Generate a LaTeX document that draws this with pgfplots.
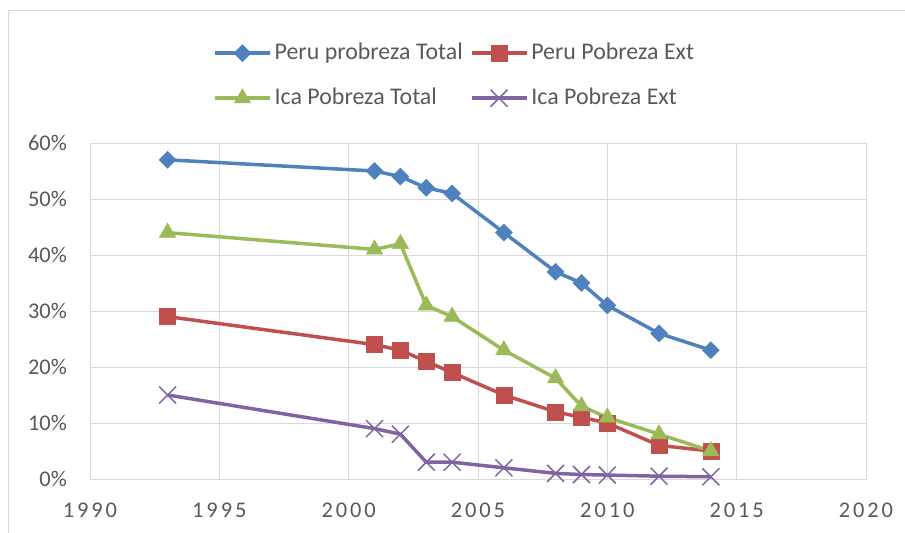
\documentclass[border=0pt]{standalone}
\usepackage{fontspec}
\setmainfont{Carlito}
\newfontfamily\spacedfont[LetterSpace=13]{Carlito}
\usepackage{pgfplots}
\pgfplotsset{compat=1.18}
\definecolor{cblue}{HTML}{4F81BD}
\definecolor{cred}{HTML}{C0504D}
\definecolor{cgreen}{HTML}{9BBB59}
\definecolor{cpurple}{HTML}{8064A2}
\definecolor{gridgray}{HTML}{D9D9D9}
\definecolor{textgray}{HTML}{595959}
\begin{document}
\begin{tikzpicture}
\draw[gridgray, line width=1bp] (8bp,-10bp) rectangle (915bp,522bp);
\begin{axis}[
  at={(90bp,54bp)}, anchor=south west,
  scale only axis, width=776bp, height=336bp,
  xmin=1990, xmax=2020, ymin=0, ymax=60,
  xtick={1990,1995,...,2020}, ytick={0,10,...,60},
  grid=major, major grid style={draw=gridgray, line width=1bp},
  axis line style={draw=gridgray, line width=1bp},
  major tick length=0pt,
  /pgf/number format/assume math mode=true,
  xticklabel style={font=\spacedfont\fontsize{22.5}{27}\selectfont, text=textgray, inner sep=0pt, anchor=north, yshift=-24bp, /pgf/number format/1000 sep={}},
  yticklabel style={font=\fontsize{22.5}{27}\selectfont, text=textgray, inner sep=0pt, anchor=east, xshift=-23bp},
  yticklabel={\pgfmathprintnumber{\tick}\%},
  legend columns=2,
  legend cell align=left,
  legend style={draw=none, fill=none, inner sep=0pt,
    at={(axis description cs:0.1585,1.3065)}, anchor=north west,
    font=\fontsize{24}{28}\selectfont, text=textgray,
    nodes={inner sep=2bp, text height=17bp, text depth=5bp},
    row sep=19bp,
    /tikz/every odd column/.append style={column sep=1bp},
    /tikz/every even column/.append style={column sep=5bp}},
  legend image code/.code={\draw[mark repeat=2,mark phase=2] plot coordinates {(0bp,0bp) (27.5bp,0bp) (55bp,0bp)};},
  every axis plot/.append style={line width=3.5bp},
]
\addplot[cblue, mark=square*, mark size=6bp, mark options={solid, rotate=45, line width=0.5bp}] coordinates {
(1993,57) (2001,55) (2002,54) (2003,52) (2004,51) (2006,44) (2008,37) (2009,35) (2010,31) (2012,26) (2014,23)};
\addlegendentry{Peru probreza Total}
\addplot[cred, mark=square*, mark size=8bp, mark options={solid, line width=0.5bp}] coordinates {
(1993,29) (2001,24) (2002,23) (2003,21) (2004,19) (2006,15) (2008,12) (2009,11) (2010,10) (2012,6) (2014,5)};
\addlegendentry{Peru Pobreza Ext}
\addplot[cgreen, mark=triangle*, mark size=9.5bp, mark options={solid, line width=0.5bp}] coordinates {
(1993,44) (2001,41) (2002,42) (2003,31) (2004,29) (2006,23) (2008,18) (2009,13) (2010,11) (2012,8) (2014,5)};
\addlegendentry{Ica Pobreza Total}
\addplot[cpurple, mark=x, mark size=12bp, mark options={solid, line width=1.5bp}] coordinates {
(1993,15) (2001,9) (2002,8) (2003,3) (2004,3) (2006,2) (2008,1) (2009,0.8) (2010,0.7) (2012,0.5) (2014,0.4)};
\addlegendentry{Ica Pobreza Ext}
\end{axis}
\pgfresetboundingbox
\useasboundingbox (0,0) rectangle (905bp,533bp);
\end{tikzpicture}
\end{document}
